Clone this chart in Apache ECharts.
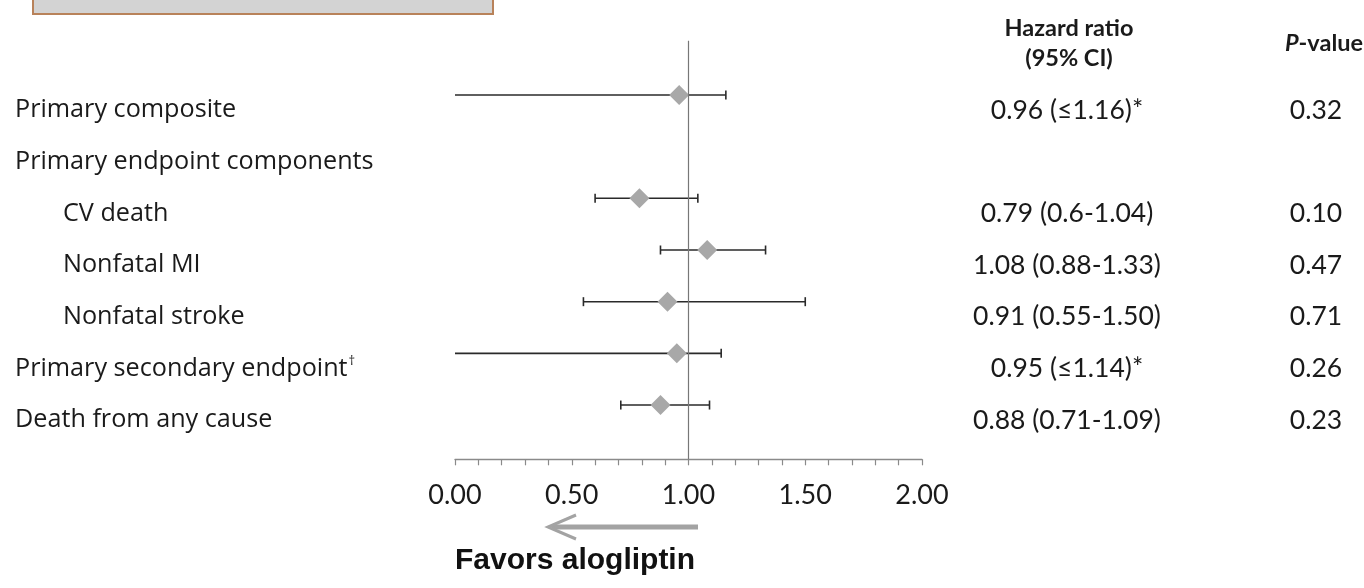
<!DOCTYPE html>
<html>
<head>
<meta charset="utf-8">
<script src="https://cdn.jsdelivr.net/npm/echarts@6/dist/echarts.min.js"></script>
<style>
html,body{margin:0;padding:0;background:#fff;}
#chart{width:1364px;height:588px;}
</style>
</head>
<body>
<div id="chart"></div>
<script>
// ---- data ----
const categories = ['Primary composite','Primary endpoint components','CV death','Nonfatal MI','Nonfatal stroke','Primary secondary endpoint','Death from any cause'];
const indentLevel = [0,0,1,1,1,0,0];
const footnote = ['','','','','','†',''];
const hazardRatio = [0.96,null,0.79,1.08,0.91,0.95,0.88];
const ciLower = [null,null,0.60,0.88,0.55,null,0.71];   // null = one-sided (≤)
const ciUpper = [1.16,null,1.04,1.33,1.50,1.14,1.09];
const hrLabels = ['0.96 (≤1.16)*','','0.79 (0.6-1.04)','1.08 (0.88-1.33)','0.91 (0.55-1.50)','0.95 (≤1.14)*','0.88 (0.71-1.09)'];
const pValues = ['0.32','','0.10','0.47','0.71','0.26','0.23'];
const xMin = 0, xMax = 2, xInterval = 0.5;

const LABEL_FONT = '"Open Sans", Lato, sans-serif';
const NUM_FONT = 'Lato, "Open Sans", sans-serif';
const chart = echarts.init(document.getElementById('chart'), null, {renderer:'canvas'});

const barData = [];
const pointData = [];
categories.forEach((c,i)=>{
  if (hazardRatio[i] != null) {
    barData.push([i, ciLower[i] == null ? xMin : ciLower[i], ciUpper[i], ciLower[i] == null ? 1 : 0]);
    pointData.push([hazardRatio[i], i]);
  }
});
const textData = categories.map((c,i)=>[i]);

const option = {
  backgroundColor:'#fff',
  animation:false,
  grid:{left:455, right:442, top:40.7, bottom:128.7, containLabel:false},
  xAxis:{
    type:'value', min:xMin, max:xMax, interval:xInterval, position:'bottom',
    axisLine:{show:true, onZero:false, lineStyle:{color:'#8a8a8a', width:1.3}},
    axisTick:{show:true, length:6, lineStyle:{color:'#8a8a8a', width:1.2}},
    minorTick:{show:true, splitNumber:5, length:6, lineStyle:{color:'#8a8a8a', width:1.2}},
    splitLine:{show:false},
    axisLabel:{fontFamily:NUM_FONT, fontSize:27, color:'#1a1a1a', margin:22, formatter:v=>v.toFixed(2)}
  },
  yAxis:{type:'value', min:-1.05, max:7.05, inverse:true, show:false},
  series:[
    {
      type:'custom', name:'ci', data:barData,
      encode:{x:[1,2], y:0},
      renderItem:(params, api)=>{
        const row = api.value(0);
        const a = api.coord([api.value(1), row]);
        const b = api.coord([api.value(2), row]);
        const oneSided = api.value(3) === 1;
        const cap = 4.5;
        const st = {stroke:'#2a2a2a', lineWidth:1.6};
        const children = [
          {type:'line', shape:{x1:a[0], y1:a[1], x2:b[0], y2:b[1]}, style:st},
          {type:'line', shape:{x1:b[0], y1:b[1]-cap, x2:b[0], y2:b[1]+cap}, style:st}
        ];
        if (!oneSided) children.push({type:'line', shape:{x1:a[0], y1:a[1]-cap, x2:a[0], y2:a[1]+cap}, style:st});
        return {type:'group', children};
      },
      z:2
    },
    {
      type:'scatter', name:'hr', data:pointData,
      symbol:'diamond', symbolSize:[20,20],
      itemStyle:{color:'#a8a8a8', opacity:1},
      z:3,
      markLine:{
        silent:true, symbol:'none', label:{show:false},
        lineStyle:{color:'#777', width:1.2, type:'solid'},
        data:[{xAxis:1}]
      }
    },
    {
      type:'custom', name:'text', data:textData,
      encode:{y:0},
      renderItem:(params, api)=>{
        const i = api.value(0);
        const y = api.coord([xMin, i])[1] + 15;
        const labelText = footnote[i] ? '{a|'+categories[i]+'}{s|'+footnote[i]+'}' : '{a|'+categories[i]+'}';
        const numStyle = {fontFamily:NUM_FONT, fontSize:26.5, fill:'#1a1a1a', align:'center', verticalAlign:'middle'};
        return {type:'group', children:[
          {type:'text', x: 15 + indentLevel[i]*48, y:y, style:{
            text:labelText, verticalAlign:'middle', align:'left',
            rich:{a:{fontFamily:LABEL_FONT, fontSize:25.2, fill:'#1a1a1a'}, s:{fontFamily:LABEL_FONT, fontSize:13, fill:'#1a1a1a', verticalAlign:'top', padding:[0,0,14,1]}}
          }},
          {type:'text', x:1067, y:y, style:Object.assign({}, numStyle, {text:hrLabels[i]})},
          {type:'text', x:1316, y:y, style:Object.assign({}, numStyle, {text:pValues[i]})}
        ]};
      },
      z:4
    }
  ],
  graphic:[
    {type:'rect', shape:{x:33, y:-6, width:460, height:20}, style:{fill:'#d3d3d3', stroke:'#b8825a', lineWidth:2}},
    {type:'text', x:1069, y:28, style:{text:'Hazard ratio', fontFamily:NUM_FONT, fontWeight:'bold', fontSize:23.5, fill:'#1a1a1a', align:'center', verticalAlign:'middle'}},
    {type:'text', x:1069, y:58, style:{text:'(95% CI)', fontFamily:NUM_FONT, fontWeight:'bold', fontSize:23.5, fill:'#1a1a1a', align:'center', verticalAlign:'middle'}},
    {type:'text', x:1324, y:43, style:{text:'{i|P}{b|-value}', align:'center', verticalAlign:'middle',
      rich:{i:{fontFamily:NUM_FONT, fontWeight:'bold', fontStyle:'italic', fontSize:23.5, fill:'#1a1a1a'}, b:{fontFamily:NUM_FONT, fontWeight:'bold', fontSize:23.5, fill:'#1a1a1a'}}}},
    {type:'line', shape:{x1:698, y1:527, x2:552, y2:527}, style:{stroke:'#a3a3a3', lineWidth:5}},
    {type:'polyline', shape:{points:[[576,515],[548,527],[576,539]]}, style:{stroke:'#a3a3a3', lineWidth:3, fill:null}},
    {type:'text', x:455, y:561, style:{text:'Favors alogliptin', fontFamily:'"Liberation Sans", Arial, sans-serif', fontWeight:'bold', fontSize:30, fill:'#111', align:'left', verticalAlign:'middle'}}
  ]
};
chart.setOption(option);
</script>
</body>
</html>
